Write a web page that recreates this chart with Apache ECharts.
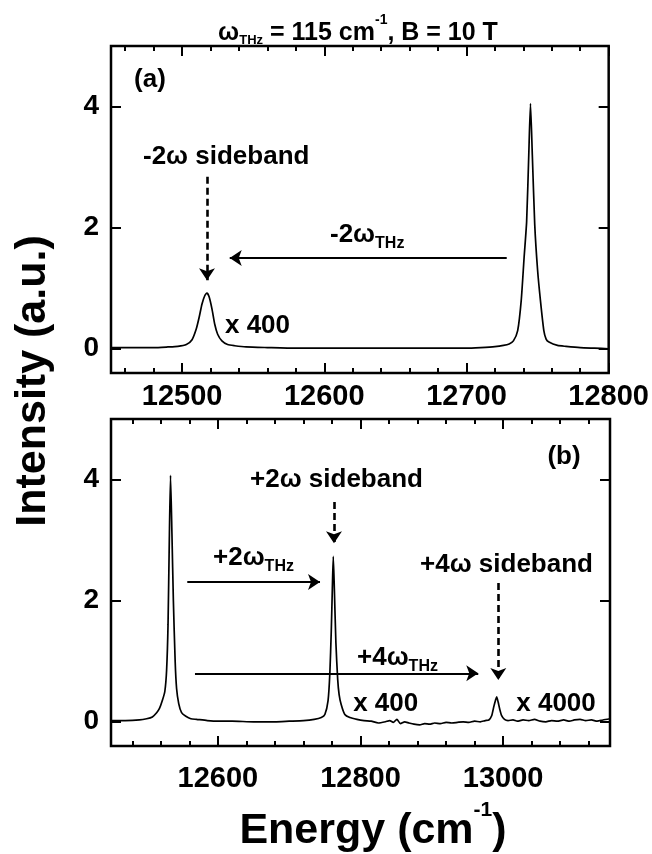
<!DOCTYPE html>
<html>
<head>
<meta charset="utf-8">
<script src="https://cdn.jsdelivr.net/npm/echarts@6/dist/echarts.min.js"></script>
<style>
html,body{margin:0;padding:0;background:#fff;}
#chart{width:652px;height:854px;}
</style>
</head>
<body>
<div id="chart"></div>
<script>
// ---------- data ----------
// Panel (a): energy (cm^-1), intensity (a.u.)
const specA = [
  [12450,0.02],[12460,0.02],[12470,0.02],[12480,0.02],[12490,0.03],[12497,0.04],[12503,0.07],
  [12507,0.15],[12510,0.33],[12512,0.52],[12514,0.74],[12516,0.88],[12517.5,0.92],[12519,0.86],
  [12521,0.66],[12523,0.40],[12525,0.24],[12528,0.13],[12532,0.07],[12537,0.05],[12545,0.03],
  [12560,0.02],[12580,0.01],[12600,0.01],[12620,0.01],[12640,0.01],[12660,0.01],[12680,0.01],
  [12700,0.01],[12710,0.02],[12720,0.035],[12726,0.055],[12730,0.08],[12733,0.13],[12736,0.30],
  [12738.5,0.80],[12740.5,1.5],[12742.3,2.1],[12743.8,3.2],[12745,4.05],[12746.3,3.2],[12748,2.05],
  [12750,1.3],[12752,0.8],[12754.4,0.30],[12756,0.16],[12758,0.11],[12764,0.055],[12770,0.04],
  [12780,0.02],[12790,0.01],[12800,0.0]
];
// Panel (b)
const specB = [
  [12450,0.02],[12470,0.02],[12490,0.03],[12500,0.05],[12508,0.08],[12514,0.15],[12518,0.22],
  [12522,0.35],[12525.5,0.50],[12528,0.85],[12530,1.6],[12531.8,3.0],[12533.5,4.07],[12535.5,3.1],
  [12537.5,2.0],[12540,1.0],[12542,0.55],[12545,0.30],[12549,0.15],[12555,0.09],[12562,0.05],
  [12570,0.04],[12585,0.02],[12600,0.01],[12620,0.01],[12650,0.0],[12680,0.0],[12700,0.01],
  [12720,0.02],[12735,0.04],[12745,0.07],[12750,0.12],[12754.5,0.35],[12757,0.8],[12759,1.5],
  [12760.5,2.2],[12761.8,2.73],[12763.3,2.2],[12765.5,1.3],[12768,0.7],[12770,0.45],[12773,0.28],
  [12778,0.12],[12785,0.07],[12795,0.04],[12805,0.02],[12815,0.01],[12825,-0.02],[12835,0.0],
  [12841,0.02],[12846,-0.01],[12851,0.04],[12856,-0.03],[12862,0.0],[12868,-0.02],[12875,-0.04],
  [12883,-0.05],[12890,-0.03],[12897,-0.04],[12904,-0.02],[12912,-0.03],[12920,-0.01],[12928,-0.02],
  [12936,-0.01],[12944,0.0],[12952,-0.01],[12960,0.01],[12968,0.0],[12975,0.02],[12980,0.03],
  [12984,0.10],[12987,0.25],[12989.5,0.36],[12991,0.41],[12993,0.33],[12995.5,0.20],[12998,0.10],
  [13002,0.04],[13007,0.02],[13014,0.03],[13020,0.01],[13028,0.03],[13036,0.02],[13044,0.04],
  [13052,0.01],[13060,0.0],[13068,0.02],[13076,0.01],[13085,0.03],[13093,0.01],[13100,0.03],
  [13108,0.04],[13116,0.02],[13124,0.03],[13132,0.01],[13140,0.03],[13150,0.05]
];
// axis ranges and ticks
const xRangeA = [12450, 12800];
const xMajorA = [12500, 12600, 12700, 12800];
const xMinorA = [12460,12480,12520,12540,12560,12580,12620,12640,12660,12680,12720,12740,12760,12780];
const xRangeB = [12450, 13150];
const xMajorB = [12600, 12800, 13000];
const xMinorB = [12480,12520,12560,12640,12680,12720,12760,12840,12880,12920,12960,13040,13080,13120];
const yRange = [-0.4, 5];
const yTicks = [0, 2, 4];
// annotation arrows: [x1, y1, x2, y2] in data units (end = arrow head tip)
const dashedArrowsA = [[12517.5, 2.84, 12517.5, 1.13]];
const solidArrowsA  = [[12728.3, 1.50, 12533.5, 1.50]];
const dashedArrowsB = [[12762.8, 3.63, 12762.8, 2.95], [12993.3, 2.29, 12993.3, 0.69]];
const solidArrowsB  = [[12557, 2.31, 12743.2, 2.31], [12567.8, 0.80, 12965.2, 0.80]];

// ---------- chart ----------
const FONT = '"Liberation Sans", Arial, Helvetica, sans-serif';
const PLOT_H = 327;                       // plot height of each panel in px
const MAJOR_LEN = 10, MINOR_LEN = 5;      // tick lengths in px
const chart = echarts.init(document.getElementById('chart'), null, {renderer: 'canvas'});
const ctx = document.createElement('canvas').getContext('2d');
function tw(t, s) { ctx.font = 'bold ' + s + 'px ' + FONT; return ctx.measureText(t).width; }
function txt(parts, x, cy, align) {
  const ws = parts.map(p => tw(p.t, p.s));
  const total = ws.reduce((a, b) => a + b, 0);
  let x0 = align === 'center' ? x - total / 2 : (align === 'right' ? x - total : x);
  const out = [];
  parts.forEach((p, i) => {
    out.push({type: 'text', x: x0, y: cy + (p.dy || 0), silent: true,
      style: {text: p.t, fontSize: p.s, fontWeight: 'bold', fontFamily: FONT, fill: '#000',
              align: 'left', verticalAlign: 'middle'}});
    x0 += ws[i];
  });
  return out;
}

function tickStyle() { return {color: '#000', width: 2}; }
function xAxis(grid, range, major, labelMargin) {
  return {gridIndex: grid, type: 'value', min: range[0], max: range[1], position: 'bottom',
    axisLine: {show: false, onZero: false}, splitLine: {show: false},
    axisTick: {show: true, inside: true, length: MAJOR_LEN, customValues: major, lineStyle: tickStyle()},
    axisLabel: {show: true, customValues: major, margin: labelMargin, fontSize: 29, fontWeight: 'bold',
                color: '#000', fontFamily: FONT, formatter: v => String(v)}};
}
function yAxis(grid, pos, withLabels) {
  const ax = {gridIndex: grid, type: 'value', min: yRange[0], max: yRange[1], position: pos,
    axisLine: {show: false, onZero: false}, splitLine: {show: false},
    axisTick: {show: true, inside: true, length: 10, customValues: yTicks, lineStyle: tickStyle()},
    axisLabel: {show: false}};
  if (withLabels) {
    ax.axisLabel = {show: true, customValues: yTicks, margin: 12, fontSize: 28, fontWeight: 'bold',
                    color: '#000', fontFamily: FONT};
  }
  return ax;
}
function seg(x1, y1, x2, y2, width, type) {
  return [
    {coord: [x1, y1], symbol: 'none', lineStyle: {color: '#000', width: width, type: type}},
    {coord: [x2, y2], symbol: 'none'}
  ];
}
// inward x ticks on the bottom and top frame edges, placed through the axis scale
function tickSegs(major, minor) {
  const u = (yRange[1] - yRange[0]) / PLOT_H;     // data units per px
  const out = [];
  const add = (v, len) => {
    out.push(seg(v, yRange[0], v, yRange[0] + len * u, 2, 'solid'));
    out.push(seg(v, yRange[1], v, yRange[1] - len * u, 2, 'solid'));
  };
  major.forEach(v => add(v, MAJOR_LEN));
  minor.forEach(v => add(v, MINOR_LEN));
  return out;
}
function arrows(list, dashed) {
  return list.map(a => [
    {coord: [a[0], a[1]], symbol: 'none',
     lineStyle: {color: '#000', width: dashed ? 2.6 : 2, type: dashed ? [7, 4] : 'solid'}},
    {coord: [a[2], a[3]], symbol: 'arrow', symbolSize: 12}
  ]);
}
function markLines(dashedList, solidList, major, minor) {
  return {silent: true, animation: false, symbol: ['none', 'arrow'], symbolSize: 12,
    label: {show: false}, emphasis: {disabled: true},
    lineStyle: {color: '#000', width: 2, type: 'solid'},
    itemStyle: {color: '#000'},
    data: tickSegs(major, minor).concat(arrows(dashedList, true), arrows(solidList, false))};
}

const graphics = [].concat(
  txt([{t: 'ω', s: 25}, {t: 'THz', s: 13, dy: 7.5}, {t: ' = 115 cm', s: 25},
       {t: '-1', s: 14, dy: -13}, {t: ', B = 10 T', s: 25}], 358, 33, 'center'),
  txt([{t: 'Energy (cm', s: 43}, {t: '-1', s: 21, dy: -21}, {t: ')', s: 43}], 373, 831, 'center'),
  [{type: 'text', x: 33, y: 381, rotation: Math.PI / 2, silent: true,
    style: {text: 'Intensity (a.u.)', fontSize: 43, fontWeight: 'bold', fontFamily: FONT, fill: '#000',
            align: 'center', verticalAlign: 'middle'}}],
  txt([{t: '(a)', s: 26}], 150, 80, 'center'),
  txt([{t: '-2ω sideband', s: 26}], 143, 156.5, 'left'),
  txt([{t: '-2ω', s: 26}, {t: 'THz', s: 16, dy: 8.5}], 330, 235, 'left'),
  txt([{t: 'x 400', s: 26}], 257.5, 326, 'center'),
  txt([{t: '(b)', s: 26}], 564, 457, 'center'),
  txt([{t: '+2ω sideband', s: 26}], 250, 480, 'left'),
  txt([{t: '+2ω', s: 26}, {t: 'THz', s: 16, dy: 8.5}], 213, 558, 'left'),
  txt([{t: '+4ω sideband', s: 26}], 420, 565, 'left'),
  txt([{t: '+4ω', s: 26}, {t: 'THz', s: 16, dy: 8.5}], 357, 658, 'left'),
  txt([{t: 'x 400', s: 26}], 385.7, 703.5, 'center'),
  txt([{t: 'x 4000', s: 26}], 556, 703.5, 'center')
);

const framed = {show: true, borderColor: '#000', borderWidth: 2.5, backgroundColor: 'transparent', containLabel: false};
const option = {
  animation: false,
  grid: [
    Object.assign({left: 111, right: 42, top: 46, bottom: 481}, framed),   // panel (a)
    Object.assign({left: 111, right: 42, top: 419, bottom: 108}, framed)   // panel (b)
  ],
  xAxis: [
    xAxis(0, xRangeA, xMajorA, 9),
    xAxis(1, xRangeB, xMajorB, 18)
  ],
  yAxis: [
    yAxis(0, 'left', true), yAxis(0, 'right', false),
    yAxis(1, 'left', true), yAxis(1, 'right', false)
  ],
  series: [
    {type: 'line', xAxisIndex: 0, yAxisIndex: 0, data: specA, showSymbol: false, smooth: 0.2,
     lineStyle: {color: '#000', width: 1.7}, silent: true,
     markLine: markLines(dashedArrowsA, solidArrowsA, xMajorA, xMinorA)},
    {type: 'line', xAxisIndex: 1, yAxisIndex: 2, data: specB, showSymbol: false, smooth: 0.2,
     lineStyle: {color: '#000', width: 1.7}, silent: true,
     markLine: markLines(dashedArrowsB, solidArrowsB, xMajorB, xMinorB)}
  ],
  graphic: graphics
};
chart.setOption(option);
</script>
</body>
</html>
